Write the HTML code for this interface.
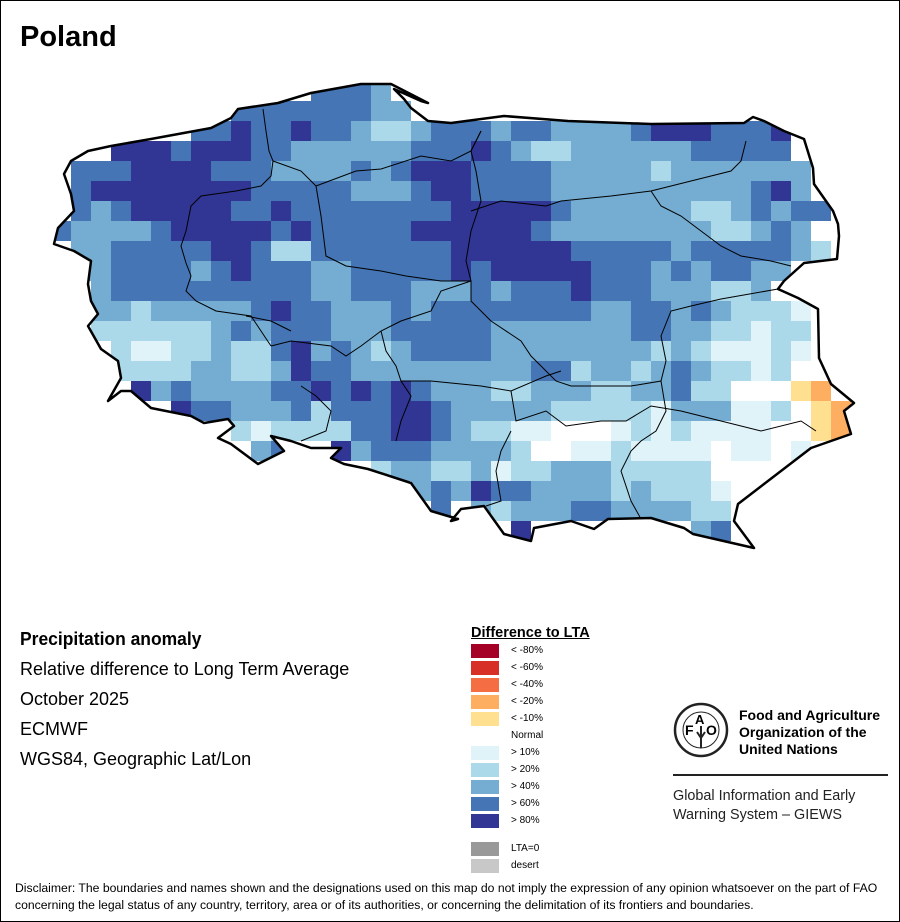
<!DOCTYPE html>
<html><head><meta charset="utf-8"><style>
html,body{margin:0;padding:0;background:#fff}
#w{position:relative;width:898px;height:920px;border:1px solid #000;overflow:hidden;font-family:"Liberation Sans",Arial,sans-serif}
.t{position:absolute;white-space:nowrap;color:#000}
</style></head><body><div id="w">
<div class="t" style="left:19px;top:20px;font-size:29px;font-weight:bold">Poland</div>
<svg id="map" width="898" height="600" style="position:absolute;left:0;top:0"></svg>
<div class="t" style="left:19px;top:628px;font-size:18px;font-weight:bold;transform:scaleX(0.97);transform-origin:left">Precipitation anomaly</div>
<div class="t" style="left:19px;top:658px;font-size:18px">Relative difference to Long Term Average</div>
<div class="t" style="left:19px;top:688px;font-size:18px">October 2025</div>
<div class="t" style="left:19px;top:718px;font-size:18px">ECMWF</div>
<div class="t" style="left:19px;top:748px;font-size:18px">WGS84, Geographic Lat/Lon</div>
<div class="t" style="left:470px;top:624px;font-size:14.5px;font-weight:bold;text-decoration:underline">Difference to LTA</div>
<div id="leg"></div>
<svg width="60" height="60" style="position:absolute;left:672px;top:701px" viewBox="0 0 60 60">
<circle cx="28" cy="28" r="26" fill="none" stroke="#222" stroke-width="2.5"/>
<circle cx="28" cy="28" r="18" fill="none" stroke="#222" stroke-width="1"/>
<text x="12" y="33" font-size="14" font-weight="bold" font-family="Liberation Sans">F</text>
<text x="22" y="22" font-size="13" font-weight="bold" font-family="Liberation Sans">A</text>
<text x="33" y="33" font-size="14" font-weight="bold" font-family="Liberation Sans">O</text>
<path d="M28 24 L28 46 M24 30 L28 36 L32 30" stroke="#222" stroke-width="2" fill="none"/>
</svg>
<div class="t" style="left:738px;top:706px;font-size:14px;font-weight:bold;line-height:17px">Food and Agriculture<br>Organization of the<br>United Nations</div>
<div style="position:absolute;left:672px;top:773px;width:215px;height:2px;background:#222"></div>
<div class="t" style="left:672px;top:786px;font-size:14.4px;line-height:19px;color:#222">Global Information and Early<br>Warning System – GIEWS</div>
<div class="t" style="left:14px;top:879px;font-size:12.2px;line-height:17px">Disclaimer: The boundaries and names shown and the designations used on this map do not imply the expression of any opinion whatsoever on the part of FAO<br>concerning the legal status of any country, territory, area or of its authorities, or concerning the delimitation of its frontiers and boundaries.</div>
</div>
<script>
var C={D:'#313695',M:'#4575b4',L:'#74add1',P:'#abd9e9',V:'#e0f3f8',W:'#ffffff',Y:'#fee090',O:'#fdae61'};
var R=[
"13-15M 16L",
"9-15M 16-17L",
"7-8M 9D 10-11M 12D 13-14M 15L 16-17P 18L 19-21M 22L 23-24M 25-28L 29M 30-32D 33-35M 36D",
"3-5D 6M 7-9D 10-11M 12-17L 18-20M 21D 22M 23L 24-25P 26-31L 32-36M",
"1-3M 4-7D 8-10M 11-14L 15M 16L 17M 18-20D 21-24M 25-29L 30P 31-37L",
"1M 2-9D 10-14M 15-17L 18M 19-20D 21-24M 25-34L 35M 36D 37L",
"1M 2L 3M 4-8D 9-10M 11D 12-19M 20-24D 25M 26-31L 32-33P 34L 35M 36L 37-38M",
"0M 1-4L 5M 6-10D 11M 12D 13-17M 18-23D 24M 25-32L 33-34P 35L 36M 37L",
"1-2L 3-7M 8-9D 10M 11-12P 13-19M 20-25D 26-30M 31L 32-36M 37L 38P",
"1-2L 3-6M 7L 8M 9D 10-12M 13-14L 15-19M 20D 21M 22-26D 27-29M 30L 31M 32L 33-34M 35-36L",
"2L 3-12M 13-14L 15-17M 18-20L 21M 22L 23-25M 26D 27-29M 30-32L 33-34P 35L",
"2-3L 4P 5-9L 10M 11D 12-13M 14-16L 17M 18L 19-26M 27-28L 29-30M 31L 32M 33L 34-36P 37V",
"2-7P 8L 9M 10L 11-13M 14-16L 17-21M 22-28L 29-30M 31-32L 33-34P 35V 36-37P",
"3P 4-5V 6-7P 8L 9-10P 11M 12D 13L 14M 15L 16P 17L 18-21M 22-29L 30P 31L 32P 33-35V 36P 37V",
"3-6P 7-8L 9-10P 11L 12D 13-14M 15-23L 24-25M 26P 27-28L 29P 30L 31M 32L 33-34P 35V 36P",
"4D 5L 6M 7-10L 11-12M 13D 14M 15D 16M 17D 18M 19-21L 22-23P 24-26L 27-28P 29-30L 31M 32-33P 37Y 38O",
"6D 7-8M 9-11L 12M 13P 14-16M 17-18D 19M 20-24L 25-29P 30V 31-33L 34-35V 36P 38Y 39O",
"9P 10V 11-14P 15-16M 17-18D 19M 20L 21-22P 23-24V 28V 29P 30V 31P 32-35V 38Y 39O",
"10L 11M 14D 15L 16-18M 19-22L 23P 26-27V 28P 29-32V 34-35V 37V",
"16P 17-18L 19-20P 21L 22V 23-24P 25-27L 28-32P",
"18L 19M 20L 21D 22-23M 24-27L 28P 29L 30-32P 33V",
"19M 21L 22P 23-25L 26-27M 28-31L 32-33P",
"23D 32L 33M"];
var s='<defs><clipPath id="cp"><path id="bp" d=""/></clipPath></defs><g clip-path="url(#cp)">';
R.forEach(function(row,r){row.split(' ').forEach(function(p){var m=p.match(/(\d+)(?:-(\d+))?([A-Z])/);var a=+m[1],b=m[2]?+m[2]:a;s+='<rect x="'+(50+20*a)+'" y="'+(80+20*r)+'" width="'+(20*(b-a+1))+'" height="20" fill="'+C[m[3]]+'"/>';});});
s+='</g>';
var B="M70,160 L87,150 110,145 150,138 210,127 230,117 237,108 277,102 310,92 360,83 390,83 427,102 L420,100 393,88 403,98 410,107 427,120 450,122 503,115 567,120 650,123 743,122 752,116 763,120 783,130 803,138 812,167 813,183 832,210 837,223 838,235 836,258 803,262 783,280 777,288 797,297 817,308 818,357 830,383 853,402 843,410 850,433 810,447 737,503 733,520 753,547 692,533 683,527 650,517 607,518 593,528 570,520 533,527 530,540 503,533 483,505 460,508 450,520 457,518 430,510 410,482 367,468 343,463 330,457 340,447 310,447 290,440 270,435 283,450 257,463 230,443 217,437 233,425 227,418 203,422 190,415 150,407 130,390 120,390 107,400 120,377 117,360 100,348 87,325 97,313 90,300 87,283 90,260 73,250 53,243 57,227 73,210 70,193 63,173 Z";
var clip=B.replace("L420,100 393,88 403,98 410,107 ","L");
s=s.replace('d=""','d="'+clip+'"');
s+='<path d="'+B+'" fill="none" stroke="#000" stroke-width="2.5" stroke-linejoin="round"/>';
var inner=["M262,108 L265,130 268,150 272,160 270,175 260,185 235,190 200,195 190,205 185,230 180,245 185,262 190,275 185,290 195,300 215,310 250,315 260,330 270,345",
"M272,160 L300,170 315,185 320,215 325,255 345,265 380,270 405,275 440,280 470,280",
"M315,185 L355,170 380,168 420,155 450,160 470,150 480,130",
"M480,130 L470,150 475,170 480,200 470,230 465,260 470,280 470,300 490,320",
"M470,210 L500,200 545,205 560,200 610,195 650,190 690,180 730,170 740,160 745,140",
"M650,190 L660,205 680,215 700,230 720,245 740,255 770,260 790,265",
"M270,345 L290,340 330,345 345,355 360,345 380,330 400,320 430,310 440,290 470,280",
"M245,315 L270,320 290,330",
"M380,330 L385,350 395,365 400,380 410,395 400,420 395,440",
"M400,380 L430,380 480,385 510,390 545,375 560,370",
"M490,320 L520,340 530,355 545,370 555,380 570,385 600,385 630,385 660,380 665,360 660,335 670,310 690,305 720,298 777,288",
"M660,380 L665,410 655,430 640,440 630,450 620,470 630,500 640,518",
"M510,390 L515,420 545,410 565,425 600,420 625,420 650,405 680,410 720,420 760,430 800,420 815,430",
"M300,440 L325,430 330,410 315,395 300,385",
"M510,430 L500,450 495,470 500,500 485,505"];
inner.forEach(function(d){s+='<path d="'+d+'" fill="none" stroke="#000" stroke-width="1"/>';});
document.getElementById('map').innerHTML=s;
var L=[['#a50026','< -80%',643],['#d73027','< -60%',660],['#f46d43','< -40%',677],['#fdae61','< -20%',694],['#fee090','< -10%',711],[null,'Normal',728],['#e0f3f8','> 10%',745],['#abd9e9','> 20%',762],['#74add1','> 40%',779],['#4575b4','> 60%',796],['#313695','> 80%',813],['#999999','LTA=0',841],['#c8c8c8','desert',858]];
var h='';L.forEach(function(e){if(e[0])h+='<div style="position:absolute;left:470px;top:'+e[2]+'px;width:28px;height:14px;background:'+e[0]+'"></div>';h+='<div class="t" style="left:510px;top:'+(e[2]+1)+'px;font-size:10px">'+e[1]+'</div>';});
document.getElementById('leg').innerHTML=h;
</script>
</body></html>
